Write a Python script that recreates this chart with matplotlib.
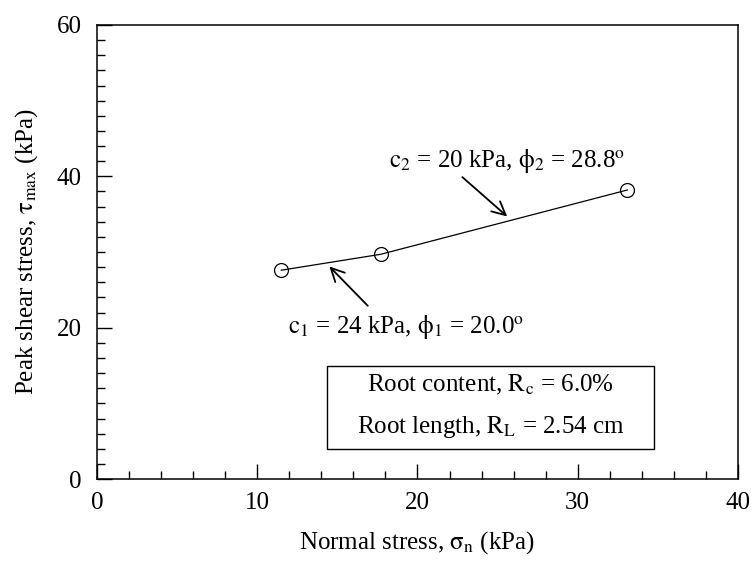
import numpy as np
import matplotlib
matplotlib.use('Agg')
import matplotlib.pyplot as plt
from matplotlib.ticker import MultipleLocator

plt.rcParams['font.family'] = ['Liberation Serif', 'DejaVu Serif']
plt.rcParams['mathtext.fontset'] = 'stix'

# data
normal_stress = [11.5, 17.7, 33.1]
peak_shear = [27.6, 29.7, 38.2]

fig = plt.figure(figsize=(7.53, 5.65), dpi=100)
ax = fig.add_axes([0.1288, 0.152, 0.8512, 0.8038])

ax.plot(normal_stress, peak_shear, color='black', linewidth=0.9,
        marker='o', markersize=10, markerfacecolor='none',
        markeredgecolor='black', markeredgewidth=0.9)

ax.set_xlim(0, 40)
ax.set_ylim(0, 60)
ax.xaxis.set_major_locator(MultipleLocator(10))
ax.xaxis.set_minor_locator(MultipleLocator(2))
ax.yaxis.set_major_locator(MultipleLocator(20))
ax.yaxis.set_minor_locator(MultipleLocator(2))
ax.tick_params(which='both', direction='in', top=False, right=False,
               labelsize=18, width=1)
ax.tick_params(which='major', length=11)
ax.tick_params(which='minor', length=6)
ax.tick_params(axis='y', pad=11)
ax.tick_params(axis='x', pad=9)
for s in ax.spines.values():
    s.set_linewidth(1.1)

ax.set_xlabel(r'Normal stress, $\mathrm{\sigma_{n}}$ (kPa)', fontsize=18, labelpad=11)
ax.set_ylabel(r'Peak shear stress, $\mathrm{\tau_{max}}$ (kPa)', fontsize=18, labelpad=12)

arrow = dict(arrowstyle='->', color='black', lw=1.3, shrinkA=0, shrinkB=0,
             mutation_scale=24)

# annotations
ax.text(25.6, 42.0, r'$\mathrm{c_{2}}$ = 20 kPa, $\mathrm{\phi_{2}}$ = 28.8$^{\mathrm{o}}$',
        fontsize=18, ha='center', va='center')
ax.annotate('', xy=(25.6, 34.7), xytext=(22.8, 39.9), arrowprops=arrow)
ax.text(19.3, 20.1, r'$\mathrm{c_{1}}$ = 24 kPa, $\mathrm{\phi_{1}}$ = 20.0$^{\mathrm{o}}$',
        fontsize=18, ha='center', va='center')
ax.annotate('', xy=(14.5, 28.1), xytext=(16.9, 22.9), arrowprops=arrow)

# info box
ax.add_patch(plt.Rectangle((14.35, 3.96), 20.4, 10.94, fill=False,
                           edgecolor='black', linewidth=1.0))
ax.text(24.55, 12.5, r'Root content, $\mathrm{R_{c}}$ = 6.0%', fontsize=18,
        ha='center', va='center')
ax.text(24.55, 6.9, r'Root length, $\mathrm{R_{L}}$ = 2.54 cm', fontsize=18,
        ha='center', va='center')

fig.savefig('out.png', dpi=100)
